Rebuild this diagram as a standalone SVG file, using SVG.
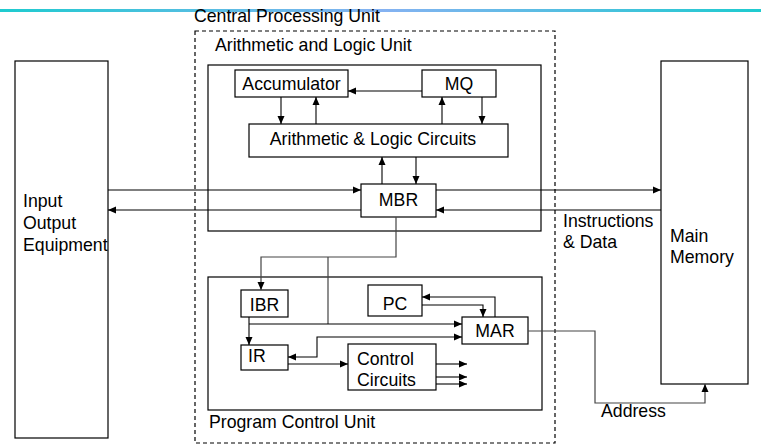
<svg xmlns="http://www.w3.org/2000/svg" width="761" height="447" viewBox="0 0 761 447">
<defs>
<linearGradient id="topbar" x1="0" y1="0" x2="1" y2="0">
<stop offset="0" stop-color="#1ECBCF"/>
<stop offset="0.5" stop-color="#86B2F2"/>
<stop offset="1" stop-color="#1ECBCF"/>
</linearGradient>
<marker id="ah" viewBox="0 0 8 8" refX="8" refY="4" markerWidth="8" markerHeight="8" markerUnits="userSpaceOnUse" orient="auto">
<path d="M0,0.5 L8,4 L0,7.5 Z" fill="#000"/>
</marker>
</defs>
<style>
.box{fill:#fff;stroke:#000;stroke-width:1.2}
.frame{fill:none;stroke:#000;stroke-width:1.2}
.dash{fill:none;stroke:#000;stroke-width:1.2;stroke-dasharray:4 3}
.t{font-family:"Liberation Sans",Arial,sans-serif;font-size:17.7px;fill:#000}
.c{text-anchor:middle}
.ln{fill:none;stroke:#000;stroke-width:1.1}
.ln2{fill:none;stroke:#444;stroke-width:1.2}
.a{marker-end:url(#ah)}
</style>
<rect width="761" height="447" fill="#fff"/>
<rect x="0" y="9" width="761" height="3" fill="url(#topbar)"/>

<g id="cpu">
<rect class="dash" x="195" y="31" width="360" height="412"/>
<text class="t" x="194" y="22">Central Processing Unit</text>
</g>
<g id="alu">
<rect class="frame" x="208" y="65" width="333" height="166"/>
<text class="t" x="215" y="51">Arithmetic and Logic Unit</text>
</g>
<g id="pcu">
<rect class="frame" x="208" y="277" width="334" height="133"/>
<text class="t" x="209" y="428">Program Control Unit</text>
</g>
<g id="io">
<rect class="box" x="15" y="61" width="93" height="377"/>
<text class="t" x="23" y="207">Input</text>
<text class="t" x="23" y="229">Output</text>
<text class="t" x="23" y="251">Equipment</text>
</g>
<g id="memory">
<rect class="box" x="661" y="61" width="87" height="323"/>
<text class="t" x="670" y="242">Main</text>
<text class="t" x="670" y="263">Memory</text>
</g>
<g id="accumulator">
<rect class="box" x="235" y="70" width="113" height="27"/>
<text class="t c" x="291.5" y="90">Accumulator</text>
</g>
<g id="mq">
<rect class="box" x="422" y="70" width="74" height="27"/>
<text class="t c" x="459" y="90">MQ</text>
</g>
<g id="alc">
<rect class="box" x="249" y="124" width="259" height="33"/>
<text class="t c" x="373" y="145">Arithmetic &amp; Logic Circuits</text>
</g>
<g id="mbr">
<rect class="box" x="361" y="184" width="75" height="33"/>
<text class="t c" x="398.5" y="206">MBR</text>
</g>
<g id="ibr">
<rect class="box" x="241" y="290" width="47" height="27"/>
<text class="t c" x="264.5" y="311">IBR</text>
</g>
<g id="pc">
<rect class="box" x="368" y="285" width="54" height="31"/>
<text class="t c" x="395" y="310">PC</text>
</g>
<g id="mar">
<rect class="box" x="462" y="317" width="66" height="27"/>
<text class="t c" x="495" y="337">MAR</text>
</g>
<g id="ir">
<rect class="box" x="241" y="345" width="47" height="25"/>
<text class="t" x="248" y="362">IR</text>
</g>
<g id="control">
<rect class="box" x="348" y="344" width="88" height="46"/>
<text class="t" x="357" y="365">Control</text>
<text class="t" x="357" y="386">Circuits</text>
</g>

<g id="connectors">
<path class="ln a" d="M422,91 H348"/>
<path class="ln a" d="M281,97 V124"/>
<path class="ln a" d="M316,124 V97"/>
<path class="ln a" d="M442,124 V97"/>
<path class="ln a" d="M482,97 V124"/>
<path class="ln a" d="M382,184 V157"/>
<path class="ln a" d="M416,157 V184"/>
<path class="ln a" d="M108,190 H361"/>
<path class="ln a" d="M436,190 H661"/>
<path class="ln a" d="M661,210 H436"/>
<path class="ln a" d="M361,210 H108"/>
<path class="ln2 a" d="M396,217 V257 H261 V290"/>
<path class="ln2" d="M328,257 V324"/>
<path class="ln a" d="M249,317 V345"/>
<path class="ln a" d="M249,324 H462"/>
<path class="ln a" d="M422,305 H483 V317"/>
<path class="ln a" d="M495,317 V297 H422"/>
<path class="ln a" d="M317,347 V337 H462"/>
<path class="ln a" d="M317,347 V357 H288"/>
<path class="ln a" d="M288,364 H348"/>
<path class="ln a" d="M436,364 H467"/>
<path class="ln a" d="M436,377 H467"/>
<path class="ln a" d="M436,384 H467"/>
<path class="ln2 a" d="M528,331 H595 V403 H705 V384"/>
</g>
<text class="t" x="563" y="227">Instructions</text>
<text class="t" x="563" y="248">&amp; Data</text>
<text class="t" x="601" y="417">Address</text>
</svg>
